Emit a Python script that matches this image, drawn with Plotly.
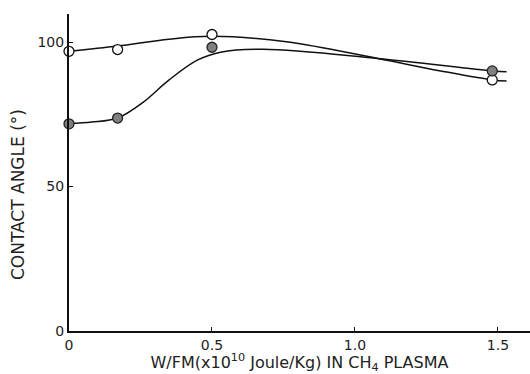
import plotly.graph_objects as go

# Measured points
open_x = [0.0, 0.17, 0.5, 1.48]
open_y = [96.8, 97.4, 102.6, 86.9]
filled_x = [0.0, 0.17, 0.5, 1.48]
filled_y = [71.7, 73.7, 98.2, 90.0]

# Hand-drawn fit curves (knots)
fit_open_x = [0.0, 0.17, 0.35, 0.5, 0.76, 1.08, 1.3, 1.48, 1.53]
fit_open_y = [96.8, 98.6, 101.0, 102.0, 100.1, 94.3, 90.0, 86.9, 86.5]
fit_filled_x = [0.0, 0.08, 0.17, 0.26, 0.35, 0.45, 0.53, 0.68, 1.08, 1.48, 1.53]
fit_filled_y = [71.8, 72.3, 73.7, 79.2, 86.9, 93.8, 96.5, 97.5, 94.3, 90.0, 89.7]

x_ticks = [0, 0.5, 1.0, 1.5]
x_ticklabels = ["0", "0.5", "1.0", "1.5"]
y_ticks = [0, 50, 100]
y_ticklabels = ["0", "50", "100"]

font = "DejaVu Sans, Liberation Sans, Arial, sans-serif"
fig = go.Figure()
fig.add_trace(go.Scatter(x=fit_open_x, y=fit_open_y, mode="lines",
                         line=dict(color="#111", width=1.5, shape="spline", smoothing=1.0),
                         hoverinfo="skip", showlegend=False, cliponaxis=False))
fig.add_trace(go.Scatter(x=fit_filled_x, y=fit_filled_y, mode="lines",
                         line=dict(color="#111", width=1.5, shape="spline", smoothing=1.0),
                         hoverinfo="skip", showlegend=False, cliponaxis=False))
fig.add_trace(go.Scatter(x=open_x, y=open_y, mode="markers",
                         marker=dict(size=10, color="white", line=dict(color="#111", width=1.3)),
                         showlegend=False, cliponaxis=False))
fig.add_trace(go.Scatter(x=filled_x, y=filled_y, mode="markers",
                         marker=dict(size=10, color="#808080", line=dict(color="#222", width=1.3)),
                         showlegend=False, cliponaxis=False))

fig.update_layout(
    width=530, height=374,
    margin=dict(l=69, r=0, t=14, b=43),
    paper_bgcolor="white", plot_bgcolor="white",
    font=dict(family=font, size=14, color="#222"),
    xaxis=dict(range=[0, 1.612], tickvals=x_ticks, ticktext=x_ticklabels,
               showgrid=False, zeroline=False, showline=True, linecolor="#111", linewidth=2,
               ticks="inside", ticklen=4, tickcolor="#111", tickwidth=1,
               title=dict(text="W/FM(x10<sup>10</sup> Joule/Kg) IN CH<sub>4</sub> PLASMA",
                          font=dict(size=16), standoff=4)),
    yaxis=dict(range=[0, 109.7], tickvals=y_ticks, ticktext=y_ticklabels,
               showgrid=False, zeroline=False, showline=True, linecolor="#111", linewidth=2,
               ticks="inside", ticklen=4, tickcolor="#111", tickwidth=1),
    annotations=[dict(text="CONTACT ANGLE (°)", xref="paper", yref="paper",
                      x=-0.1106, y=0.429, xanchor="center", yanchor="middle",
                      textangle=-90, showarrow=False, font=dict(size=17))],
)
fig.write_html("out.html")
